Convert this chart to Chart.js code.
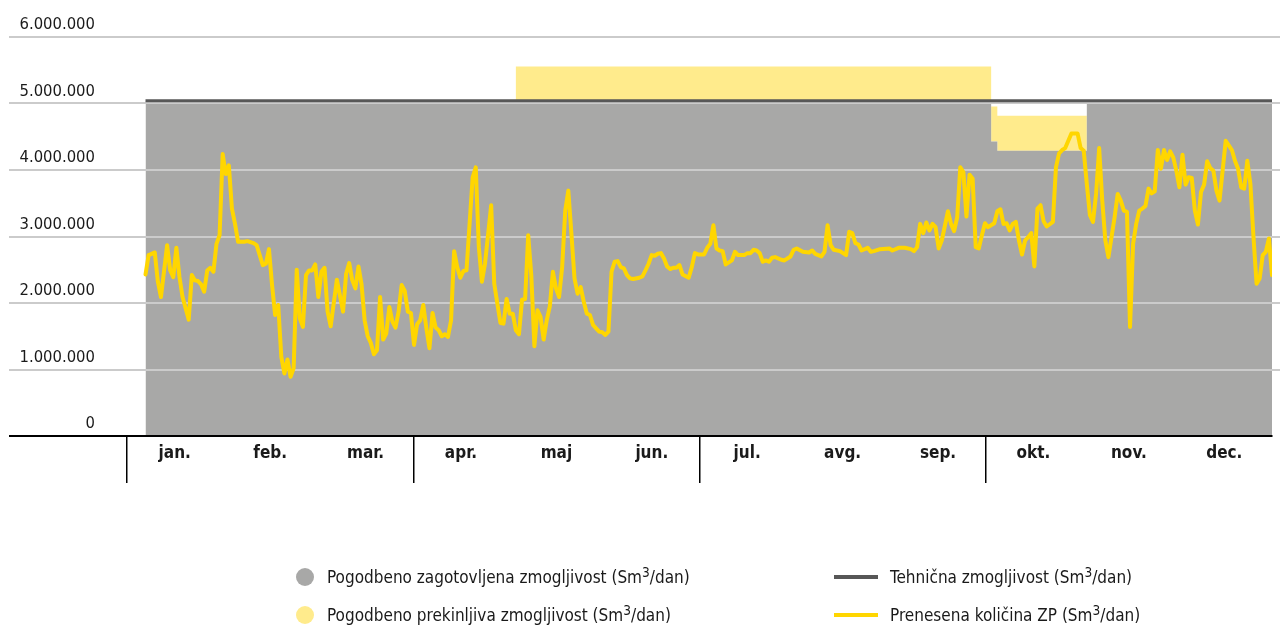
<!DOCTYPE html>
<html lang="sl">
<head>
<meta charset="utf-8">
<title>Zmogljivost in prenesena količina ZP</title>
<script src="https://cdn.jsdelivr.net/npm/chart.js@4.4.1/dist/chart.umd.min.js"></script>
<style>
  html, body { margin: 0; padding: 0; background: #fff; }
  body {
    position: relative; width: 1280px; height: 625px; overflow: hidden;
    font-family: 'Liberation Sans Narrow', 'DejaVu Sans Condensed', sans-serif;
    color: #1a1a1a;
  }
  #wrap { position: absolute; left: 0; top: 0; width: 1280px; height: 490px; }
  #legend { position: absolute; left: 0; top: 0; width: 1280px; height: 625px; }
  .item {
    position: absolute; display: flex; align-items: center;
    font-size: 17px; line-height: 22px; white-space: nowrap;
    transform: translateY(-50%);
  }
  .dot { width: 18px; height: 18px; border-radius: 50%; margin-right: 13px; flex: none; }
  .bar { width: 44px; height: 4px; margin-right: 12px; flex: none; }
  .item sup { font-size: 0.8em; vertical-align: 0.42em; line-height: 0; }
</style>
</head>
<body>
<div id="wrap"><canvas id="chart" width="1280" height="490"></canvas></div>
<div id="legend"></div>
<script>
// Month labels of the category axis
const months = ['jan.', 'feb.', 'mar.', 'apr.', 'maj', 'jun.', 'jul.', 'avg.', 'sep.', 'okt.', 'nov.', 'dec.'];
// Value-axis ticks (Sm3/dan)
const yTickValues = [0, 1000000, 2000000, 3000000, 4000000, 5000000, 6000000];

// Capacities as step functions (day of year where each value starts)
const capacityDays = [0, 120, 274, 276, 305, 365];
const firmCapacity = [5030000, 5030000, 4430000, 4290000, 5030000, 5030000];
const interruptibleCapacity = [0, 526000, 526000, 526000, 0, 0];

const technicalDays = [0, 365];
const technicalCapacity = [5040000, 5040000];

// Daily transported quantity (day of year, Sm3/dan)
const flowDays = [
  0, 1, 2, 3, 4, 5, 7, 8, 9, 10, 11, 12, 14, 15, 16, 17, 18, 19, 20, 21, 22, 23, 24, 25, 26, 27, 28, 29, 30, 32,
  33, 35, 36, 38, 39, 40, 41, 42, 43, 44, 45, 46, 47, 48, 49, 50, 51, 52, 53, 54, 55, 56, 57, 58, 59, 60, 62, 64, 65, 66,
  67, 68, 69, 70, 71, 72, 73, 74, 75, 76, 77, 78, 79, 80, 81, 82, 83, 84, 85, 86, 87, 88, 89, 90, 91, 92, 93, 94, 95, 96,
  97, 98, 99, 100, 101, 102, 103, 104, 106, 107, 108, 109, 110, 112, 113, 114, 115, 116, 117, 118, 119, 120, 121, 122, 123, 124, 125, 126, 127, 128,
  129, 130, 131, 132, 133, 134, 135, 136, 137, 138, 139, 140, 141, 142, 143, 144, 145, 146, 147, 148, 149, 150, 151, 152, 153, 154, 155, 156, 157, 158,
  160, 161, 162, 163, 164, 165, 166, 167, 168, 169, 170, 171, 172, 173, 174, 176, 177, 178, 179, 181, 182, 183, 184, 185, 186, 187, 188, 190, 191, 192,
  194, 195, 196, 197, 198, 199, 200, 201, 202, 203, 204, 206, 207, 209, 210, 211, 213, 215, 216, 217, 219, 220, 221, 222, 223, 225, 227, 228, 229, 230,
  231, 232, 234, 235, 236, 238, 241, 242, 244, 246, 248, 249, 250, 251, 252, 253, 254, 255, 256, 257, 258, 260, 261, 262, 263, 264, 265, 266, 267, 268,
  269, 270, 271, 272, 273, 275, 276, 277, 278, 279, 280, 281, 282, 283, 284, 285, 286, 287, 288, 289, 290, 291, 292, 294, 295, 296, 297, 298, 300, 302,
  303, 304, 305, 306, 307, 308, 309, 310, 311, 312, 313, 314, 315, 316, 317, 318, 319, 320, 321, 322, 323, 324, 325, 326, 327, 328, 329, 330, 331, 332,
  333, 334, 335, 336, 337, 338, 339, 340, 341, 342, 343, 344, 345, 346, 347, 348, 349, 350, 351, 352, 353, 354, 355, 356, 357, 358, 359, 360, 361, 362,
  363, 364, 365
];
const flowValues = [
  2430000, 2720000, 2740000, 2760000, 2320000, 2090000, 2870000, 2490000, 2390000, 2830000, 2390000, 2090000, 1750000, 2420000, 2340000,
  2330000, 2280000, 2170000, 2490000, 2530000, 2470000, 2890000, 3020000, 4240000, 3940000, 4070000, 3420000, 3190000, 2920000, 2920000,
  2930000, 2900000, 2870000, 2570000, 2590000, 2810000, 2270000, 1820000, 1970000, 1190000, 940000, 1150000, 890000, 1020000, 2500000,
  1770000, 1640000, 2420000, 2490000, 2490000, 2580000, 2090000, 2470000, 2530000, 1870000, 1650000, 2350000, 1870000, 2440000, 2600000,
  2340000, 2220000, 2550000, 2280000, 1740000, 1500000, 1400000, 1230000, 1290000, 2090000, 1450000, 1540000, 1940000, 1720000, 1630000,
  1870000, 2270000, 2180000, 1870000, 1850000, 1370000, 1680000, 1740000, 1970000, 1620000, 1320000, 1850000, 1630000, 1590000, 1500000,
  1530000, 1490000, 1740000, 2780000, 2540000, 2380000, 2480000, 2490000, 3890000, 4040000, 2840000, 2320000, 2590000, 3470000, 2290000,
  1990000, 1700000, 1690000, 2060000, 1840000, 1840000, 1590000, 1530000, 2050000, 2060000, 3020000, 2420000, 1350000, 1890000, 1790000,
  1450000, 1740000, 1950000, 2470000, 2220000, 2090000, 2540000, 3390000, 3690000, 3040000, 2370000, 2140000, 2240000, 2020000, 1840000,
  1820000, 1670000, 1620000, 1570000, 1560000, 1520000, 1570000, 2470000, 2620000, 2630000, 2540000, 2520000, 2420000, 2370000, 2360000,
  2380000, 2400000, 2490000, 2590000, 2720000, 2710000, 2740000, 2750000, 2670000, 2550000, 2510000, 2530000, 2530000, 2570000, 2430000,
  2380000, 2540000, 2750000, 2730000, 2730000, 2830000, 2890000, 3170000, 2820000, 2790000, 2780000, 2580000, 2640000, 2770000, 2720000,
  2720000, 2750000, 2750000, 2800000, 2790000, 2750000, 2620000, 2640000, 2620000, 2680000, 2690000, 2650000, 2640000, 2700000, 2800000,
  2820000, 2770000, 2760000, 2790000, 2740000, 2700000, 2770000, 3170000, 2870000, 2800000, 2780000, 2720000, 3070000, 3050000, 2900000,
  2880000, 2790000, 2830000, 2770000, 2780000, 2810000, 2820000, 2790000, 2830000, 2830000, 2810000, 2780000, 2840000, 3190000, 3050000,
  3210000, 3090000, 3190000, 3140000, 2820000, 2940000, 3380000, 3190000, 3080000, 3290000, 4040000, 3970000, 3300000, 3930000, 3870000,
  2840000, 2820000, 3020000, 3200000, 3140000, 3200000, 3380000, 3410000, 3190000, 3200000, 3090000, 3190000, 3220000, 2940000, 2730000,
  2940000, 2990000, 3050000, 2550000, 3420000, 3470000, 3230000, 3150000, 3220000, 4040000, 4250000, 4300000, 4330000, 4550000, 4550000,
  4330000, 4290000, 3790000, 3320000, 3220000, 3640000, 4330000, 3540000, 2940000, 2690000, 2990000, 3290000, 3640000, 3540000, 3390000,
  3370000, 1640000, 2890000, 3190000, 3390000, 3420000, 3460000, 3720000, 3650000, 3680000, 4300000, 4020000, 4300000, 4150000, 4280000,
  4190000, 3990000, 3740000, 4230000, 3780000, 3890000, 3880000, 3390000, 3180000, 3670000, 3780000, 4130000, 4030000, 3990000, 3690000,
  3540000, 3990000, 4440000, 4370000, 4300000, 4140000, 4020000, 3740000, 3720000, 4140000, 3790000, 2990000, 2290000, 2370000, 2720000,
  2770000, 2970000, 2420000
];

const GREY = '#a8a8a7';
const BAND = '#ffeb8c';
const DARK = '#575757';
const GOLD = '#ffd600';
const GRID = '#cbcbcb';
const FONT = "'Liberation Sans Narrow', 'DejaVu Sans Condensed', sans-serif";

const points = (xs, ys) => xs.map((x, i) => ({ x, y: ys[i] }));
const groupThousands = v => String(v).replace(/\B(?=(\d{3})+(?!\d))/g, '.');
const setTicks = scale => { scale.ticks = yTickValues.map(v => ({ value: v })); };

// Dataset order: technical line first, then the stacked capacity areas
// (firm below, interruptible on top of it), then the transported quantity.
const chart = new Chart(document.getElementById('chart'), {
  type: 'line',
  data: {
    datasets: [
      {
        label: 'Tehnična zmogljivost (Sm³/dan)',
        data: points(technicalDays, technicalCapacity),
        stack: 'technical', fill: false,
        borderColor: DARK, backgroundColor: DARK, borderWidth: 3,
        pointRadius: 0, legendShape: 'bar'
      },
      {
        label: 'Pogodbeno zagotovljena zmogljivost (Sm³/dan)',
        data: points(capacityDays, firmCapacity),
        stack: 'capacity', stepped: true, fill: 'origin',
        backgroundColor: GREY, borderColor: 'transparent', borderWidth: 0,
        pointRadius: 0, legendShape: 'dot'
      },
      {
        label: 'Pogodbeno prekinljiva zmogljivost (Sm³/dan)',
        data: points(capacityDays, interruptibleCapacity),
        stack: 'capacity', stepped: true, fill: '-1',
        backgroundColor: BAND, borderColor: 'transparent', borderWidth: 0,
        pointRadius: 0, legendShape: 'dot'
      },
      {
        label: 'Prenesena količina ZP (Sm³/dan)',
        data: points(flowDays, flowValues),
        stack: 'flow', fill: false, tension: 0,
        borderColor: GOLD, backgroundColor: GOLD, borderWidth: 4,
        borderJoinStyle: 'round', borderCapStyle: 'round',
        pointRadius: 0, legendShape: 'bar'
      }
    ].map(ds => Object.assign(ds, { xAxisID: 'days', yAxisID: 'y' }))
  },
  options: {
    responsive: false,
    animation: false,
    events: [],
    devicePixelRatio: 1,
    layout: { padding: { left: 9, right: 0, top: 37, bottom: 7 } },
    plugins: {
      legend: { display: false },
      tooltip: { enabled: false },
      filler: { drawTime: 'beforeDraw' }
    },
    scales: {
      days: {
        type: 'linear', display: false, min: -6, max: 365
      },
      x: {
        type: 'category', position: 'bottom', labels: months, offset: true,
        afterFit: s => { s.height = 47; },
        border: { display: true, color: '#000', width: 2 },
        grid: {
          offset: true, drawOnChartArea: false, drawTicks: true, tickLength: 47,
          lineWidth: 1.5,
          color: c => (c.index % 3 === 0 ? '#000' : 'rgba(0,0,0,0)')
        },
        ticks: {
          padding: -40, maxRotation: 0, autoSkip: false, color: '#1a1a1a',
          font: { family: FONT, size: 17, weight: 'bold' }
        }
      },
      y: {
        type: 'linear', position: 'left', stacked: true, min: 0, max: 6000000,
        afterBuildTicks: setTicks,
        afterFit: s => { s.width = 118; },
        border: { display: false },
        grid: {
          drawTicks: true, tickLength: 118, lineWidth: 2,
          color: c => (c.tick && c.tick.value === 0 ? '#000' : GRID)
        },
        ticks: {
          padding: -86, labelOffset: -12, crossAlign: 'near', color: '#1a1a1a',
          font: { family: FONT, size: 16.5 },
          callback: v => groupThousands(v)
        }
      },
      yRight: {
        type: 'linear', position: 'right', min: 0, max: 6000000,
        afterBuildTicks: setTicks,
        afterFit: s => { s.width = 8; },
        border: { display: false },
        grid: {
          drawOnChartArea: false, drawTicks: true, tickLength: 8, lineWidth: 2,
          color: c => (c.tick && c.tick.value === 0 ? 'rgba(0,0,0,0)' : GRID)
        },
        ticks: { display: false }
      }
    }
  }
});

// Legend in two columns: capacity areas on the left, lines on the right
const legendOrder = [1, 2, 0, 3];
const legendSlots = [
  { left: 296, top: 577 },
  { left: 296, top: 615 },
  { left: 834, top: 577 },
  { left: 834, top: 615 }
];
const legend = document.getElementById('legend');
legendOrder.forEach((dsIndex, i) => {
  const ds = chart.data.datasets[dsIndex];
  const item = document.createElement('div');
  item.className = 'item';
  item.style.left = legendSlots[i].left + 'px';
  item.style.top = legendSlots[i].top + 'px';
  const mark = document.createElement('span');
  if (ds.legendShape === 'dot') {
    mark.className = 'dot';
    mark.style.background = ds.backgroundColor;
  } else {
    mark.className = 'bar';
    mark.style.background = ds.borderColor;
  }
  item.appendChild(mark);
  const text = document.createElement('span');
  const parts = ds.label.split('³');
  text.appendChild(document.createTextNode(parts[0]));
  if (parts.length > 1) {
    const sup = document.createElement('sup');
    sup.textContent = '3';
    text.appendChild(sup);
    text.appendChild(document.createTextNode(parts[1]));
  }
  item.appendChild(text);
  legend.appendChild(item);
});
</script>
</body>
</html>
